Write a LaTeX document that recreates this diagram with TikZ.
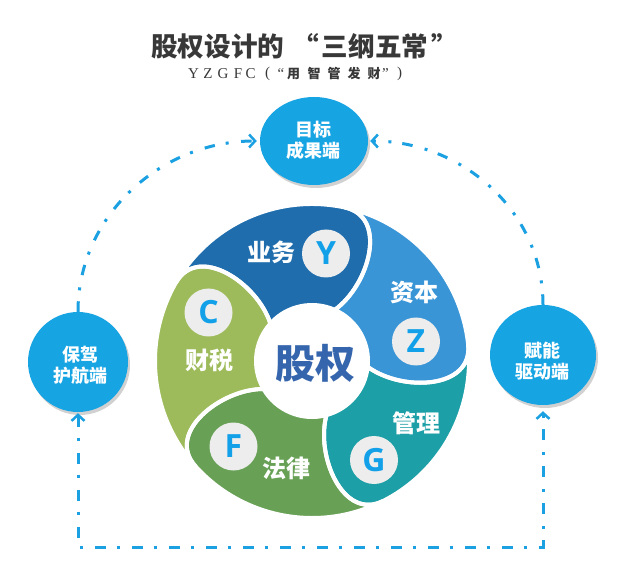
\documentclass[tikz,border=0pt]{standalone}
\usepackage{fontspec}
\usetikzlibrary{arrows.meta,shapes.geometric,shadows}
\newfontfamily\cjk{Noto Sans CJK SC}
\newfontfamily\lsans{Open Sans}
\newfontfamily\lserif{Liberation Serif}
\definecolor{cyanc}{HTML}{16A4E3}
\definecolor{linec}{HTML}{1BA1E2}
\definecolor{segY}{HTML}{1F6DAD}
\definecolor{segZ}{HTML}{3A95D6}
\definecolor{segG}{HTML}{1C9FA6}
\definecolor{segF}{HTML}{68A156}
\definecolor{segC}{HTML}{9DBB5A}
\definecolor{letc}{HTML}{12A0E8}
\definecolor{titc}{HTML}{383838}
\definecolor{corec}{HTML}{3565AC}
\newcommand\wheelpath[2]{(#1-5:157) arc[start angle=#1-5, end angle=#2-5, radius=157] .. controls (#2-21:163.3) and (#2-30:95) .. (#2-17:56) arc[start angle=#2-17, end angle=#1-17, radius=56] .. controls (#1-30:95) and (#1-21:163.3) .. (#1-5:157) -- cycle}
\begin{document}
\begin{tikzpicture}[x=1pt,y=1pt,
  outc/.style={fill=cyanc, inner sep=0pt, drop shadow={shadow xshift=2pt, shadow yshift=-3pt, fill=black, opacity=0.18}},
  outtxt/.style={text=white, inner sep=0pt, align=center, font=\cjk\bfseries\fontsize{18}{21}\selectfont},
  letcirc/.style={circle, fill=black!7, minimum size=48pt, inner sep=0pt, text=letc, font=\lsans\bfseries\fontsize{32}{32}\selectfont},
  seglab/.style={text=white, inner sep=0pt, font=\cjk\bfseries\fontsize{24}{24}\selectfont},
  subl/.style={text=titc, inner sep=0pt, font=\lserif\fontsize{15}{15}\selectfont},
  subc/.style={text=titc, inner sep=0pt, font=\cjk\bfseries\fontsize{13}{13}\selectfont},
  conn/.style={linec, line width=3pt, dash pattern=on 10.5pt off 11pt on 3pt off 12.5pt},
  barb/.tip={Straight Barb[length=6pt,width=13pt,line width=2.5pt]}
]
\useasboundingbox (0,0) rectangle (628,573);
\fill[white] (0,0) rectangle (628,573);

% title
\node[text=titc, inner sep=0pt, anchor=west, font=\cjk\bfseries\fontsize{26.6}{30}\selectfont] (title) at (151,527) {股权设计的\hspace{0.3em}“\hspace{0.12em}三纲五常\hspace{0.1em}”};
\foreach \ch/\xx [count=\i] in {Y/193.5, Z/208, G/223, F/238, C/250.5}
  \node[subl] (s\i) at (\xx,499) {\ch};
\node[subl] (po) at (267.5,499) {(};
\node[subl] (qo) at (281,499) {“};
\foreach \ch/\xx [count=\i] in {用/293.5, 智/314, 管/334, 发/354, 财/374}
  \node[subc] (c\i) at (\xx,499) {\ch};
\node[subl] (qc) at (385.5,499) {”};
\node[subl] (pc) at (399.5,499) {)};

% outer circles
\node[outc, ellipse, minimum width=108pt, minimum height=88pt] (T) at (314,432) {};
\node[outc, circle, minimum size=100pt] (L) at (78,211) {};
\node[outc, ellipse, minimum width=106pt, minimum height=100pt] (R) at (543,218) {};
\node[outtxt] (Tt) at (313,433) {目标\\成果端};
\node[outtxt] (Lt) at (80,207.5) {保驾\\护航端};
\node[outtxt] (Rt) at (542,212) {赋能\\驱动端};

% connectors
\coordinate (Bc) at (310,26);
\draw[conn, -{barb}, shorten >=3pt] (L.north) to[out=90,in=180] (T.west);
\draw[conn, -{barb}, shorten >=2pt] (R.north) to[out=90,in=0] (T.east);
\draw[conn, {barb}-{barb}, shorten <=1pt, shorten >=6pt] (L.south) |- (Bc) -| (R.south);

% wheel
\begin{scope}[shift={(312,212)}]
  \fill[segY] \wheelpath{83}{155};
  \fill[segC] \wheelpath{155}{227};
  \fill[segF] \wheelpath{227}{302};
  \fill[segG] \wheelpath{302}{371};
  \fill[segZ] \wheelpath{371}{443};
  \foreach \a/\b in {83/155,155/227,227/302,302/371,371/443}
    \draw[white, line width=4pt, line join=round] \wheelpath{\a}{\b};
\end{scope}

\node[letcirc] (Y) at (326,319.5) {Y};
\node[letcirc] (Z) at (416,231.5) {Z};
\node[letcirc] (G) at (374,113) {G};
\node[letcirc] (F) at (233.5,126.5) {F};
\node[letcirc] (C) at (208.5,260.5) {C};

\node[seglab] (ly) at (271.5,321) {业务};
\node[seglab] (lz) at (414,281) {资本};
\node[seglab] (lc) at (209,213) {财税};
\node[seglab] (lg) at (416,150) {管理};
\node[seglab] (lf) at (286,105) {法律};

\node[text=corec, inner sep=0pt, font=\cjk\bfseries\fontsize{40}{40}\selectfont] (core) at (315,210) {股权};
\end{tikzpicture}
\end{document}
